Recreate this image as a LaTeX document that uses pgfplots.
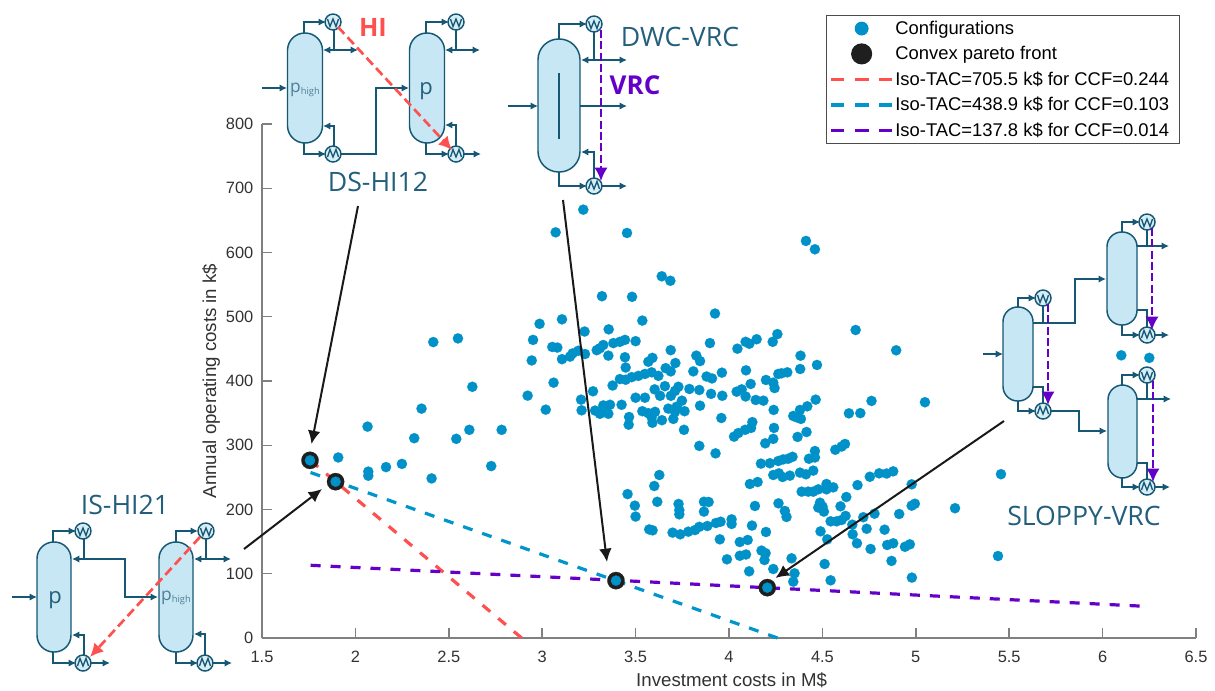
\documentclass[border=0pt]{standalone}
\usepackage{fontspec}
\usepackage{pgfplots}
\pgfplotsset{compat=1.18}
\usepackage{pgfplotstable}
\usetikzlibrary{arrows.meta}
\setmainfont{Liberation Sans}
\newfontfamily\diagfont{Open Sans}
\definecolor{dotblue}{RGB}{0,145,200}
\definecolor{isored}{RGB}{255,80,80}
\definecolor{isoblue}{RGB}{0,150,205}
\definecolor{isopurple}{RGB}{100,0,200}
\definecolor{colfill}{RGB}{198,231,243}
\definecolor{colline}{RGB}{22,88,116}
\definecolor{txtdiag}{RGB}{35,95,125}
\definecolor{axgray}{RGB}{128,128,128}
\definecolor{ticktxt}{RGB}{50,50,50}
\pgfplotstableread{
x y
3.220 666.7
3.072 631.4
3.454 630.4
3.640 563
3.686 556
3.320 532
3.481 531
3.925 505
3.536 494
3.106 496
2.986 489
3.227 477
3.356 480.4
2.951 464
3.054 453
3.081 452
3.193 447
3.163 443
3.106 434
3.149 438
3.229 442
3.292 448
3.327 456
3.309 451
3.354 439.5
3.381 459
3.416 461
3.443 464
3.500 462
3.443 437
3.447 421
3.688 448
3.590 436
3.568 430
3.825 439.5
3.845 431
3.713 428
3.661 420
3.688 415
3.809 415
3.962 413
3.898 459
4.045 450.3
4.089 461
4.109 458
4.148 465
4.234 461
4.259 473
2.944 432
3.061 397.4
2.922 377.2
3.019 355.4
2.783 324
3.208 371
3.211 354.4
3.272 384
3.377 393
3.416 403
3.447 402
3.479 406
3.515 408
3.550 411
3.586 413.5
3.622 408
3.880 407
3.909 404
3.657 392
3.602 387
3.631 377
3.500 374
3.550 374
3.729 391
3.711 384.5
3.689 377
3.748 369.4
3.788 387.6
3.841 386
3.904 380
3.964 377
3.845 361.6
4.041 383.4
4.068 387
4.089 376
4.091 416.6
4.116 395.4
4.198 401.6
4.237 397.4
4.244 389
4.264 411
4.143 370.5
4.184 369.4
4.239 355
3.959 342.4
4.125 336
4.118 327
4.086 324
4.050 319
4.027 313.4
4.241 327
4.237 310
4.194 303
3.759 324
3.841 299
3.425 363
3.283 354
3.327 362
3.363 363
3.336 355
3.354 349
3.309 349
3.465 344
3.463 332
3.536 353
3.568 350
3.604 352
3.586 343.5
3.590 335
3.641 339
3.702 341
3.675 357
3.720 360
3.762 353
3.711 352
4.678 479.4
4.895 447.8
4.383 439.4
4.471 425
4.381 418.7
4.312 413.5
4.281 412
4.464 371
4.763 369
5.049 367
4.419 360.6
4.380 355
4.344 345.6
4.362 343.5
4.385 341
4.642 349.7
4.703 350
4.415 320.6
4.367 313
4.460 291
4.460 281
4.428 279
4.621 302
4.603 298
4.569 293
4.340 282
4.317 279
4.290 278
4.264 275.5
4.219 272
4.171 271.4
3.928 287.4
4.451 260.5
4.412 254.8
4.380 257.4
4.326 252.7
4.287 250.6
4.267 256.3
4.237 253.7
4.153 242.8
4.112 239.7
3.627 253.7
3.600 236.6
3.457 224
3.496 206
3.500 189
3.616 212
3.573 169
3.591 167.6
3.730 208.6
3.734 199
3.734 192.5
3.866 212
3.891 211.7
3.866 196.7
3.698 164
3.739 161.4
3.782 165.5
3.818 168
3.841 173
3.884 174.3
3.930 179
3.955 181
4.014 184.7
4.014 177.5
4.139 205.5
4.123 175
4.198 165
3.951 153.6
4.058 149.4
4.100 152.6
4.058 128
4.091 130
3.989 122.5
4.174 136
4.196 132
4.190 121.4
4.108 103.8
4.237 107.4
4.335 124
4.351 100.7
4.344 87.7
4.512 115.2
4.544 89.8
4.979 94
4.870 120
4.265 209.6
4.299 197.7
4.308 188.4
4.389 227.8
4.424 227.8
4.451 227.8
4.478 231.4
4.522 239.7
4.522 231.4
4.558 234.5
4.688 238
4.754 251
4.804 256.3
4.844 256
4.879 259.4
4.978 239.2
4.978 206
4.995 209
4.911 193
4.779 193.5
4.719 188
4.628 219.5
4.597 205
4.487 210.6
4.501 204.4
4.478 203
4.508 196.7
4.544 181.6
4.576 181.6
4.603 183.7
4.624 190
4.660 176.4
4.662 161.4
4.737 170
4.833 168.6
4.685 147.4
4.490 166
4.526 153.6
4.758 138.6
4.847 144.8
4.879 147.4
4.942 142
4.968 145.8
2.417 460.6
2.549 466.3
2.626 391
2.354 357
2.065 329
2.315 311
2.540 310
2.610 324
1.908 281
2.249 271
2.164 266
2.069 259
2.069 252.6
2.727 267.6
2.408 248.4
5.440 127.6
5.456 255
5.210 202
6.100 440
6.250 436
4.412 618
4.460 605
}\configs
\pgfplotstableread{
x y
1.757 276.5
1.894 243.3
3.395 89.3
4.205 78.4
}\pareto
\newcommand{\column}[5]{\draw[colline,line width=1.1pt,fill=colfill,rounded corners=#5] (#1,#2) rectangle (#3,#4);}
\newcommand{\hxcond}[2]{\draw[colline,line width=1.1pt,fill=colfill!70] (#1,#2) circle[radius=8];
  \draw[colline,line width=1pt] (#1-5.5,#2-3) -- (#1-3,#2+4.5) -- (#1,#2-3) -- (#1+3,#2+4.5) -- (#1+5.5,#2-3);}
\newcommand{\hxreb}[2]{\draw[colline,line width=1.1pt,fill=colfill!70] (#1,#2) circle[radius=8];
  \draw[colline,line width=1pt] (#1-5.5,#2+3) -- (#1-3,#2-4.5) -- (#1,#2+3) -- (#1+3,#2-4.5) -- (#1+5.5,#2+3);}
\tikzset{
  pipe/.style={colline,line width=1.1pt,-{Latex[length=5.5pt,width=5.5pt]}},
  pipeb/.style={colline,line width=1.1pt,{Latex[length=5.5pt,width=5.5pt]}-{Latex[length=5.5pt,width=5.5pt]}},
  line/.style={colline,line width=1.1pt},
  hi/.style={isored,line width=2pt,dash pattern=on 7pt off 3.5pt,-{Latex[length=10pt,width=10pt]}},
  vrc/.style={isopurple,line width=1.8pt,dash pattern=on 6pt off 2.5pt,-{Latex[length=10pt,width=10pt]}},
  callout/.style={black!90,line width=1.5pt,-{Latex[length=10pt,width=9.5pt]}},
  dtitle/.style={txtdiag,font=\diagfont\fontsize{20}{22}\selectfont,inner sep=0pt},
  ptext/.style={txtdiag,font=\diagfont,inner sep=0pt}
}
\pgfplotsset{
  linelegend/.style={legend image code/.code={
    \draw[##1,line width=2.4pt,dash pattern=on 10pt off 8.2pt] (-0.51cm,0cm) -- (1.11cm,0cm);}},
  dotlegend/.style 2 args={legend image code/.code={
    \path (-0.51cm,0cm) (1.11cm,0cm);
    \fill[#1,overlay] (0.3cm,0cm) circle[radius=#2];}}
}
\begin{document}
\begin{tikzpicture}
\useasboundingbox (0pt,0pt) rectangle (911.25pt,-517.5pt);
\begin{axis}[
  at={(196.5pt,-478.5pt)},anchor=south west,
  scale only axis,width=700.5pt,height=385.5pt,
  xmin=1.5,xmax=6.5,ymin=0,ymax=800,
  axis lines=left,
  axis line style={axgray,line width=1.1pt,-},
  tick style={axgray,line width=1.1pt},
  major tick length=7.5pt,
  tick align=inside,
  xtick={1.5,2,2.5,3,3.5,4,4.5,5,5.5,6,6.5},
  xticklabels={1.5,2,2.5,3,3.5,4,4.5,5,5.5,6,6.5},
  ytick={0,100,200,300,400,500,600,700,800},
  /pgf/number format/assume math mode=true,
  tick label style={font=\fontsize{12.3}{14}\selectfont,text=ticktxt},
  xticklabel style={yshift=-6pt},
  yticklabel style={xshift=-3pt},
  xlabel={Investment costs in M\$},
  ylabel={Annual operating costs in k\$},
  label style={font=\fontsize{14}{16}\selectfont,text=ticktxt},
  xlabel style={at={(axis description cs:0.5,0)},anchor=north,yshift=-22.5pt,xshift=2pt},
  ylabel style={at={(axis description cs:0,0.5)},anchor=south,yshift=28pt},
  clip=false,
  legend cell align=left,
  legend style={at={(0.604,1.212)},anchor=north west,draw=black!70,line width=.8pt,
    font=\fontsize{13.8}{15}\selectfont,row sep=5.5pt,inner xsep=2pt,inner ysep=3pt,fill=white,
    nodes={inner sep=1pt}},
]
\addplot[only marks,mark=*,mark size=3.85pt,mark options={fill=dotblue,draw=dotblue,line width=.1pt},dotlegend={dotblue}{4.8pt}] table[x=x,y=y] {\configs};
\addlegendentry{Configurations}
\addplot[only marks,mark=*,mark size=6.5pt,mark options={fill=black!88,draw=black!88,line width=.1pt},dotlegend={black!88}{7.5pt}] table[x=x,y=y] {\pareto};
\addlegendentry{Convex pareto front}
\addplot[isored,line width=2.4pt,dash pattern=on 7.5pt off 7.82pt,linelegend] coordinates {(1.76,276.1) (2.89,0)};
\addlegendentry{Iso-TAC=705.5 k\$ for CCF=0.244\hspace*{5pt}}
\addplot[isoblue,line width=2.4pt,dash pattern=on 7.5pt off 7.67pt,linelegend] coordinates {(1.76,257.6) (4.26,0)};
\addlegendentry{Iso-TAC=438.9 k\$ for CCF=0.103}
\addplot[isopurple,line width=2.4pt,dash pattern=on 7.5pt off 7.5pt,linelegend] coordinates {(1.76,113.2) (6.25,49)};
\addlegendentry{Iso-TAC=137.8 k\$ for CCF=0.014}
\addplot[only marks,mark=*,mark size=3.85pt,mark options={fill=dotblue,draw=dotblue,line width=.1pt},forget plot] table[x=x,y=y] {\pareto};
\end{axis}
\begin{scope}[x=0.75pt,y=-0.75pt]
% callouts
\draw[callout] (358,206) -- (311.5,444);
\draw[callout] (244,549) -- (322,489);
\draw[callout] (563,200) -- (607,562);
\draw[callout] (1004,421) -- (775.5,578);
% DS-HI12
\column{287.5}{33}{322.5}{143}{13pt}
\draw[pipe] (262,88) -- (287,88);
\draw[pipe] (304,33) -- (304,22) -- (326,22);
\draw[line] (334,29) -- (334,50);
\draw[pipeb] (323,50) -- (358,50);
\draw[pipe] (304,143) -- (304,154) -- (326,154);
\draw[pipe] (334,147) -- (334,126) -- (323,126);
\draw[pipe] (341,154) -- (376,154) -- (376,88) -- (409,88);
\hxcond{333}{22}\hxreb{333}{154}
\node[ptext,font=\diagfont\fontsize{13}{16}\selectfont,text=txtdiag!80] at (305,90) {p\raisebox{-1.5pt}{\fontsize{7}{9}\selectfont high}};
\column{409.5}{33}{444.5}{143}{13pt}
\node[ptext,font=\diagfont\fontsize{16.5}{18}\selectfont] at (426,91) {p};
\draw[pipe] (426,33) -- (426,22) -- (449,22);
\draw[line] (456,29) -- (456,50);
\draw[pipeb] (445,50) -- (480,50);
\draw[pipe] (426,143) -- (426,154) -- (449,154);
\draw[pipe] (456,147) -- (456,125) -- (445,125);
\draw[pipe] (463,154) -- (481,154);
\hxcond{456}{22}\hxreb{456}{154}
\draw[hi] (338,27) -- (452,150);
\node[text=isored,font=\diagfont\bfseries\fontsize{19}{21}\selectfont,inner sep=0pt] at (373,27) {HI};
\node[dtitle] at (378,182) {DS-HI12};
% DWC-VRC
\column{538}{39}{580}{172}{15.5pt}
\draw[line] (559,73) -- (559,139);
\draw[pipe] (508,106) -- (538,106);
\draw[pipe] (580,106) -- (627,106);
\draw[pipe] (559,39) -- (559,24) -- (587,24);
\draw[line] (594,31) -- (594,60);
\draw[pipeb] (581,60) -- (627,60);
\draw[pipe] (559,172) -- (559,186) -- (587,186);
\draw[pipe] (594,179) -- (594,152) -- (581,152);
\draw[pipe] (601,186) -- (627,186);
\hxcond{594}{24}\hxreb{594}{186}
\draw[vrc] (601,30) -- (601,181);
\node[text=isopurple,font=\diagfont\bfseries\fontsize{19.5}{21}\selectfont,inner sep=0pt] at (635,85) {VRC};
\node[dtitle] at (680,37) {DWC-VRC};
% IS-HI21
\column{37}{542}{71}{652}{12.5pt}
\node[ptext,font=\diagfont\fontsize{16.5}{18}\selectfont] at (55,600) {p};
\draw[pipe] (12,597) -- (37,597);
\draw[pipe] (53,542) -- (53,531) -- (76,531);
\draw[line] (84,538) -- (84,559);
\draw[pipe] (125,559) -- (72,559);
\draw[pipe] (84,559) -- (125,559) -- (125,597) -- (158,597);
\draw[pipe] (53,652) -- (53,663) -- (76,663);
\draw[pipe] (84,656) -- (84,635) -- (72,635);
\draw[pipe] (91,663) -- (110,663);
\hxcond{83}{531}\hxreb{83}{663}
\column{159}{542}{193}{652}{12.5pt}
\node[ptext,font=\diagfont\fontsize{13}{16}\selectfont,text=txtdiag!80] at (176,598) {p\raisebox{-1.5pt}{\fontsize{7}{9}\selectfont high}};
\draw[pipe] (176,542) -- (176,531) -- (198,531);
\draw[line] (206,538) -- (206,559);
\draw[pipeb] (194,559) -- (231,559);
\draw[pipe] (176,652) -- (176,663) -- (198,663);
\draw[pipe] (205,656) -- (205,634) -- (194,634);
\draw[pipe] (213,663) -- (232,663);
\hxcond{206}{531}\hxreb{205}{663}
\draw[hi] (200,537) -- (90,657);
\node[dtitle] at (125,505) {IS-HI21};
% SLOPPY-VRC
\column{1003}{307}{1033}{401}{11pt}
\draw[pipe] (983,354) -- (1003,354);
\draw[pipe] (1018,307) -- (1018,298) -- (1036,298);
\draw[line] (1043,305) -- (1043,323);
\draw[pipe] (1033,323) -- (1075,323) -- (1075,279) -- (1106,279);
\draw[pipe] (1018,401) -- (1018,411) -- (1036,411);
\draw[line] (1043,404) -- (1043,387) -- (1033,387);
\draw[pipe] (1050,411) -- (1079,411) -- (1079,431) -- (1107,431);
\hxcond{1043}{298}\hxreb{1043}{411}
\draw[vrc] (1048,304) -- (1048,405);
\column{1107}{232}{1137}{325}{11pt}
\draw[pipe] (1122,232) -- (1122,222) -- (1140,222);
\draw[line] (1147,229) -- (1147,246);
\draw[pipe] (1137,246) -- (1169,246);
\draw[pipe] (1122,325) -- (1122,335) -- (1140,335);
\draw[line] (1147,328) -- (1147,310) -- (1137,310);
\draw[pipe] (1154,335) -- (1169,335);
\hxcond{1147}{222}\hxreb{1147}{335}
\draw[vrc] (1152,228) -- (1152,330);
\column{1108}{385}{1137}{478}{11pt}
\draw[pipe] (1122,385) -- (1122,375) -- (1140,375);
\draw[line] (1147,382) -- (1147,399);
\draw[pipe] (1137,399) -- (1171,399);
\draw[pipe] (1122,478) -- (1122,487) -- (1140,487);
\draw[line] (1147,480) -- (1147,463) -- (1137,463);
\draw[pipe] (1154,487) -- (1170,487);
\hxcond{1147}{375}\hxreb{1147}{487}
\draw[vrc] (1153,381) -- (1153,482);
\node[dtitle] at (1084,516) {SLOPPY-VRC};
\end{scope}
\end{tikzpicture}
\end{document}
